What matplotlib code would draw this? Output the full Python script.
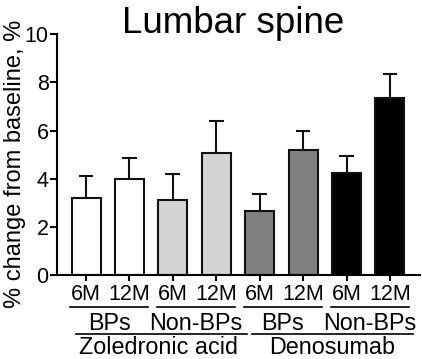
import matplotlib
matplotlib.use("Agg")
import matplotlib.pyplot as plt
import matplotlib.transforms as mtransforms
from matplotlib.lines import Line2D

# Data
time_labels = ["6M", "12M", "6M", "12M", "6M", "12M", "6M", "12M"]
means = [3.20, 3.99, 3.12, 5.07, 2.66, 5.22, 4.24, 7.35]
sems = [0.93, 0.87, 1.08, 1.34, 0.71, 0.78, 0.71, 1.01]
bar_colors = ["#ffffff", "#ffffff", "#d4d4d4", "#d4d4d4",
              "#7f7f7f", "#7f7f7f", "#000000", "#000000"]
subgroups = ["BPs", "Non-BPs", "BPs", "Non-BPs"]
drugs = ["Zoledronic acid", "Denosumab"]

plt.rcParams['font.family'] = ['Liberation Sans', 'DejaVu Sans']

fig = plt.figure(figsize=(4.22, 3.59), dpi=100)
ax = fig.add_axes([0.135, 0.2326, 0.86, 0.672])

x = list(range(len(means)))
w = 0.67
ax.bar(x, means, width=w, color=bar_colors, edgecolor="#111111", linewidth=1.5, zorder=2)
tops = [m + s for m, s in zip(means, sems)]
ax.vlines(x, means, tops, color="#111111", linewidth=1.5, zorder=1)
ax.hlines(tops, [xi - 0.17 for xi in x], [xi + 0.17 for xi in x], color="#111111", linewidth=1.5, zorder=1)

ax.set_xlim(-0.67, 7.69)
ax.set_ylim(0, 10)
ax.set_yticks([0, 2, 4, 6, 8, 10])
ax.tick_params(axis='y', labelsize=15.5, width=1.5, length=5, pad=1)
ax.set_xticks(x)
ax.set_xticklabels(time_labels)
ax.tick_params(axis='x', labelsize=15.5, width=1.5, length=4, pad=2)
for s in ["top", "right"]:
    ax.spines[s].set_visible(False)
for s in ["left", "bottom"]:
    ax.spines[s].set_linewidth(1.5)

ax.set_ylabel("% change from baseline, %", fontsize=17)
ax.yaxis.set_label_coords(-0.085, 0.464)
ax.set_title("Lumbar spine", fontsize=26.5, x=0.486, y=1.004, pad=0, va="baseline")

trans = mtransforms.blended_transform_factory(ax.transData, fig.transFigure)
def fy(py):
    return 1 - py / 359.0

# subgroup underlines and labels
for i, lab in enumerate(subgroups):
    x0 = 2 * i - 0.36
    x1 = 2 * i + 1.43
    fig.add_artist(Line2D([x0, x1], [fy(307), fy(307)], transform=trans, color="black", linewidth=1.2))
    fig.text(2 * i + 0.53, fy(330), lab, transform=trans, ha="center", va="baseline", fontsize=16.8)

spans = [(-0.23, 3.71), (3.82, 7.53)]
for j, lab in enumerate(drugs):
    x0, x1 = spans[j]
    fig.add_artist(Line2D([x0, x1], [fy(333.5), fy(333.5)], transform=trans, color="black", linewidth=1.2))
    fig.text(4 * j + 1.67, fy(354.5), lab, transform=trans, ha="center", va="baseline", fontsize=16.8)

fig.savefig("out.png", dpi=100)
